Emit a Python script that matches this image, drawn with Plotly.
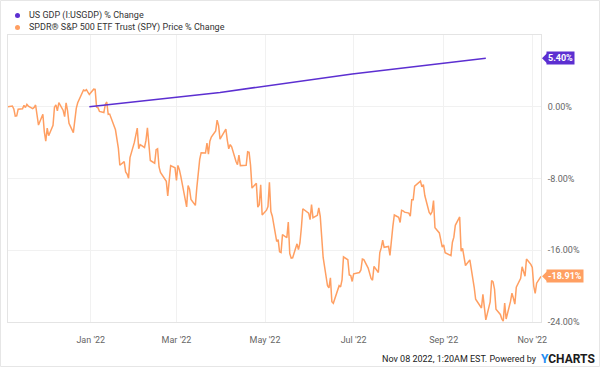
import pandas as pd
import plotly.graph_objects as go

# ---------------- data ----------------
spy_nov21 = [468.53, 468.93, 467.38, 463.62, 463.77, 467.27, 467.43, 469.28, 468.14, 469.73,
             468.89, 467.57, 468.19, 469.44, 458.97, 464.60, 455.56]
spy_dec21 = [450.50, 457.40, 453.42, 458.79, 468.28, 469.52, 466.35, 470.74, 466.57, 463.36,
             470.60, 466.45, 459.87, 454.98, 463.06, 467.69, 470.60, 477.26, 476.87, 477.48,
             476.16, 474.96]
spy_jan22 = [477.71, 477.55, 468.38, 467.94, 466.09, 465.51, 469.75, 471.02, 464.53, 464.72,
             456.49, 451.75, 446.75, 437.98, 439.84, 434.47, 433.38, 431.24, 441.95, 449.91]
spy_feb22 = [452.95, 457.35, 446.60, 448.70, 447.26, 450.94, 457.54, 449.32, 440.46, 439.02,
             446.10, 446.60, 437.06, 434.23, 429.57, 421.95, 428.30, 437.75, 436.63]
spy_mar22 = [429.98, 437.89, 435.71, 432.17, 419.43, 416.25, 427.41, 425.48, 420.07, 417.00,
             426.17, 435.62, 441.07, 444.52, 444.39, 449.59, 443.80, 450.49, 452.69, 455.91,
             461.55, 458.70, 451.64]
spy_apr22 = [452.92, 456.80, 451.03, 446.52, 448.77, 447.57, 439.92, 438.29, 443.31, 437.79,
             437.97, 445.04, 444.71, 438.06, 426.04, 428.51, 416.10, 417.27, 427.81, 412.00]
spy_may22 = [414.48, 416.38, 429.06, 413.81, 411.34, 398.17, 399.09, 392.75, 392.34, 401.72,
             400.09, 408.32, 391.86, 389.46, 389.63, 396.92, 393.89, 397.37, 405.31, 415.26,
             412.93]
spy_jun22 = [409.59, 417.39, 410.54, 411.79, 415.74, 411.22, 401.44, 389.80, 375.00, 373.87,
             379.20, 366.65, 365.86, 375.07, 374.39, 378.06, 390.08, 388.59, 380.65, 380.34,
             377.25]
spy_jul22 = [381.24, 381.96, 383.25, 388.99, 388.67, 384.23, 380.83, 378.83, 377.91, 385.13,
             381.95, 392.27, 394.77, 398.79, 395.09, 395.57, 390.89, 401.04, 406.07, 411.99]
spy_aug22 = [410.77, 408.06, 414.45, 414.17, 413.47, 412.99, 411.35, 419.99, 419.99, 427.10,
             428.86, 429.70, 426.65, 427.89, 422.14, 413.35, 412.35, 413.67, 419.51, 405.31,
             402.63, 398.21, 395.18]
spy_sep22 = [396.42, 392.24, 390.76, 397.78, 400.38, 406.60, 410.97, 393.10, 394.60, 390.12,
             385.56, 388.55, 384.09, 377.39, 374.22, 367.95, 364.31, 363.38, 370.53, 362.79,
             357.18]
spy_oct22 = [366.61, 377.76, 377.09, 373.20, 362.79, 360.02, 357.74, 356.56, 365.97, 357.63,
             366.82, 371.13, 368.50, 365.41, 374.29, 378.87, 384.92, 382.02, 379.98, 389.02,
             386.21]
spy_nov22 = [384.52, 374.87, 371.01, 376.35, 379.95]

market_holidays = ["2021-11-25", "2021-12-24", "2022-01-17", "2022-02-21", "2022-04-15",
                   "2022-05-30", "2022-06-20", "2022-07-04", "2022-09-05"]

gdp_dates = ["2021-12-31", "2022-03-31", "2022-06-30", "2022-09-30"]
gdp_pct = [0.0, 1.60, 3.66, 5.40]

x_tick_vals = ["2022-01-01", "2022-03-01", "2022-05-01", "2022-07-01", "2022-09-01", "2022-11-01"]
x_tick_text = ["Jan '22", "Mar '22", "May '22", "Jul '22", "Sep '22", "Nov '22"]
y_tick_vals = [0, -8, -16, -24]
y_tick_text = ["0.00%", "-8.00%", "-16.00%", "-24.00%"]

gdp_name = "US GDP (I:USGDP) % Change"
spy_name = "SPDR® S&P 500 ETF Trust (SPY) Price % Change"

# ---------------- build ----------------
spy_close = (spy_nov21 + spy_dec21 + spy_jan22 + spy_feb22 + spy_mar22 + spy_apr22 + spy_may22
             + spy_jun22 + spy_jul22 + spy_aug22 + spy_sep22 + spy_oct22 + spy_nov22)
days = pd.bdate_range("2021-11-05", "2022-11-07")
days = days[~days.isin(pd.to_datetime(market_holidays))]
assert len(days) == len(spy_close), (len(days), len(spy_close))
spy_pct = [(c / spy_close[0] - 1) * 100 for c in spy_close]

PURPLE = "#5c2fd1"
ORANGE = "#ff9f62"
GRID = "#f1f1f1"
BORDER = "#e4e4e4"

W, H = 600, 368
L, R, T, B = 8, 59, 35, 46
PW, PH = W - L - R, H - T - B


def px(x):
    return (x - L) / PW


def py(y):
    return (H - B - y) / PH


fig = go.Figure()
fig.add_trace(go.Scatter(x=days, y=spy_pct, mode="lines", name=spy_name,
                         line=dict(color=ORANGE, width=1.5), hoverinfo="skip"))
fig.add_trace(go.Scatter(x=gdp_dates, y=gdp_pct, mode="lines", name=gdp_name,
                         line=dict(color=PURPLE, width=1.5), hoverinfo="skip"))

fig.update_layout(
    width=W, height=H, margin=dict(l=L, r=R, t=T, b=B, pad=0),
    paper_bgcolor="white", plot_bgcolor="white", showlegend=False,
    font=dict(family="Roboto", size=9, color="#666666"),
)
fig.update_xaxes(type="date", range=["2021-11-05", "2022-11-07"],
                 tickvals=x_tick_vals, ticktext=x_tick_text,
                 showgrid=True, gridcolor=GRID, gridwidth=1,
                 showline=True, linecolor=BORDER, linewidth=1, mirror=True,
                 ticks="", ticklabelstandoff=9, zeroline=False)
fig.update_yaxes(range=[-24, 8], side="right", tickvals=y_tick_vals, ticktext=y_tick_text,
                 showgrid=True, gridcolor=GRID, gridwidth=1,
                 showline=True, linecolor=BORDER, linewidth=1, mirror=True,
                 ticks="", ticklabelstandoff=4, zeroline=False)

shapes = []
annotations = []

# outer border
shapes.append(dict(type="rect", xref="paper", yref="paper",
                   x0=px(0.5), x1=px(599.5), y0=py(366.5), y1=py(0.5),
                   line=dict(color="#e6e6e6", width=1), fillcolor="rgba(0,0,0,0)", layer="below"))

# legend
for i, (nm, col) in enumerate([(gdp_name, PURPLE), (spy_name, ORANGE)]):
    yy = 15.5 + 12 * i
    shapes.append(dict(type="circle", xref="paper", yref="paper",
                       x0=px(15), x1=px(20), y0=py(yy + 2.5), y1=py(yy - 2.5),
                       line=dict(width=0), fillcolor=col))
    annotations.append(dict(text=nm, xref="paper", yref="paper", x=px(26.5), y=py(yy),
                            xanchor="left", yanchor="middle", showarrow=False,
                            font=dict(family="Roboto", size=9, color="#333333")))

# end value tags
for val, col in [(gdp_pct[-1], PURPLE), (spy_pct[-1], ORANGE)]:
    annotations.append(dict(text="<b>%.2f%%</b>" % val, xref="paper", yref="y",
                            x=px(546), y=val, xanchor="left", yanchor="middle",
                            showarrow=False, bgcolor=col, borderpad=1,
                            font=dict(family="Roboto", size=9, color="white")))
    half = 5.0 / (PH / 32)
    shapes.append(dict(type="path", xref="paper", yref="y",
                       path="M %f %f L %f %f L %f %f Z" % (px(542), val, px(547), val + half,
                                                           px(547), val - half),
                       line=dict(width=0), fillcolor=col))

# footer
annotations.append(dict(text="Nov 08 2022, 1:20AM EST. Powered by", xref="paper", yref="paper",
                        x=px(539), y=py(359), xanchor="right", yanchor="middle", showarrow=False,
                        font=dict(family="Roboto", size=9, color="#222222")))
annotations.append(dict(text="<b><span style='color:#1f8ef1'>Y</span>CHARTS</b>",
                        xref="paper", yref="paper",
                        x=px(539), y=py(358.5), xanchor="left", yanchor="middle", showarrow=False,
                        font=dict(family="Roboto", size=12, color="#1b1b1b")))

fig.update_layout(shapes=shapes, annotations=annotations)
fig.write_html("out.html", config={"displayModeBar": False},
               post_script="document.body.style.margin='0px';document.body.style.overflow='hidden';")
